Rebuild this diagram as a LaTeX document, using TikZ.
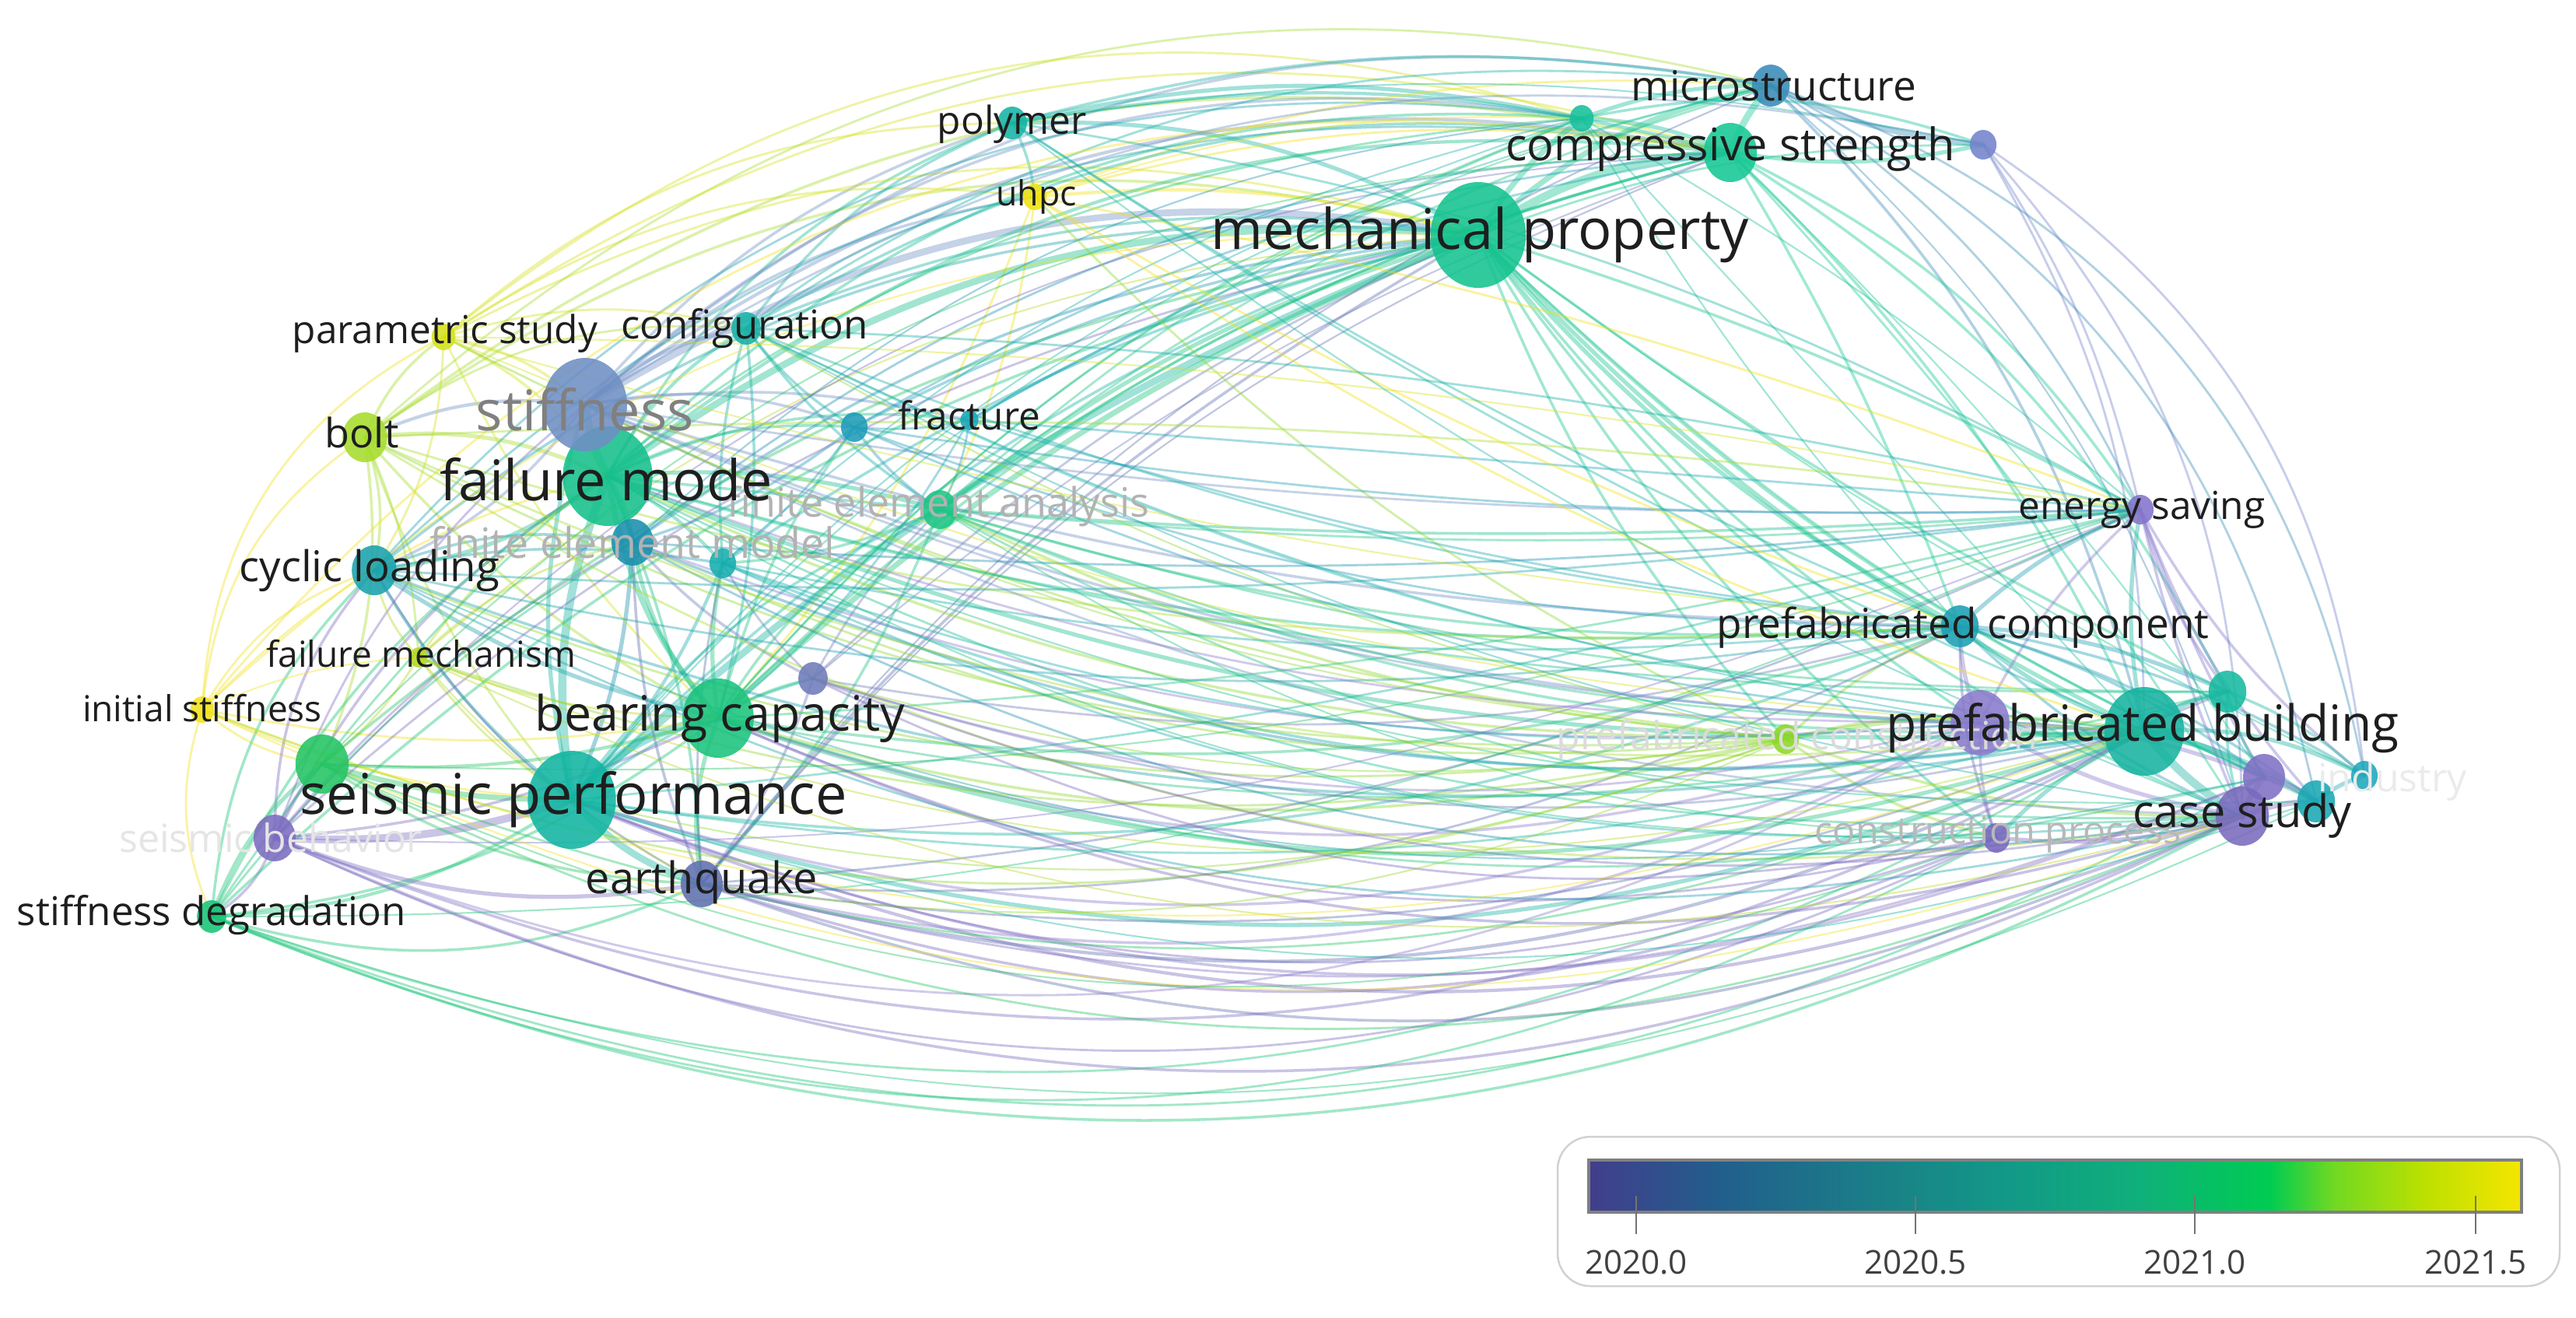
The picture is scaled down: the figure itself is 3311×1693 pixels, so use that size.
\documentclass[tikz,border=0pt]{standalone}
\usepackage{fontspec}
\setmainfont{Open Sans}
\usepackage{xcolor}
\usepackage{tikz}
\usetikzlibrary{shapes.geometric}

\definecolor{lblc}{HTML}{1E1E1E}
\definecolor{c-sp}{HTML}{12B5A2}
\definecolor{c-fm}{HTML}{16C08C}
\definecolor{c-st}{HTML}{6F8FC4}
\definecolor{c-mp}{HTML}{14C38F}
\definecolor{c-pb}{HTML}{17B3A0}
\definecolor{c-bc}{HTML}{1CC37E}
\definecolor{c-cl}{HTML}{1AA2AC}
\definecolor{c-bo}{HTML}{A6DC2C}
\definecolor{c-ps}{HTML}{D6E21C}
\definecolor{c-cf}{HTML}{16B1A6}
\definecolor{c-fr}{HTML}{1AA6B8}
\definecolor{c-na}{HTML}{1E9CB8}
\definecolor{c-fa}{HTML}{1DC585}
\definecolor{c-fe}{HTML}{1A8FAE}
\definecolor{c-nb}{HTML}{16AEAE}
\definecolor{c-fh}{HTML}{B6D822}
\definecolor{c-is}{HTML}{F2E21A}
\definecolor{c-sb}{HTML}{7C6CC0}
\definecolor{c-sd}{HTML}{16C476}
\definecolor{c-eq}{HTML}{5F70B0}
\definecolor{c-nc}{HTML}{24C464}
\definecolor{c-nd}{HTML}{6F7CBA}
\definecolor{c-po}{HTML}{14B4A4}
\definecolor{c-uh}{HTML}{F0E212}
\definecolor{c-mi}{HTML}{3A8CB8}
\definecolor{c-cs}{HTML}{15C894}
\definecolor{c-ne}{HTML}{16C09C}
\definecolor{c-nf}{HTML}{7484CC}
\definecolor{c-es}{HTML}{8474CC}
\definecolor{c-pc}{HTML}{1C9FB2}
\definecolor{c-ng}{HTML}{8A7ACC}
\definecolor{c-nh}{HTML}{16BAA0}
\definecolor{c-ni}{HTML}{8070C4}
\definecolor{c-cy}{HTML}{7A6ABD}
\definecolor{c-nj}{HTML}{1AA8B4}
\definecolor{c-ind}{HTML}{1EA8BC}
\definecolor{c-pr}{HTML}{8ED828}
\definecolor{c-cp}{HTML}{7868C0}

\pgfdeclarehorizontalshading{yearbar}{100bp}{rgb(0bp)=(0.26,0.24,0.55); rgb(25bp)=(0.26,0.24,0.55); rgb(32bp)=(0.13,0.37,0.55); rgb(40.5bp)=(0.10,0.50,0.53); rgb(47.5bp)=(0.07,0.60,0.53); rgb(54.5bp)=(0.06,0.69,0.48); rgb(61.5bp)=(0.0,0.80,0.32); rgb(65bp)=(0.45,0.85,0.13); rgb(70bp)=(0.75,0.88,0.0); rgb(75bp)=(0.96,0.90,0.0); rgb(100bp)=(0.96,0.90,0.0)}

\newcommand{\kwlist}{sp/735/1028/63, fm/781/612/64, st/752/520/60, mp/1900/302/68,
  pb/2756/940/57, bc/923/923/51, cl/481/733/32, bo/469/562/32, ps/570/433/17,
  cf/959/422/21, fr/1246/540/13, na/1098/549/19, fa/1208/655/25, fe/813/697/30,
  nb/929/724/19, fh/538/845/13, is/260/912/17, sb/353/1077/30, sd/272/1178/21,
  eq/902/1136/30, nc/414/982/38, nd/1045/872/21, po/1301/158/21, uh/1330/253/17,
  mi/2276/110/27, cs/2224/196/38, ne/2033/152/17, nf/2549/186/19, es/2751/655/19,
  pc/2519/805/27, ng/2545/929/42, nh/2863/889/27, ni/2910/999/30, cy/2882/1049/38,
  nj/2977/1030/27, ind/3039/997/19, pr/2295/950/19, cp/2566/1077/19}

\begin{document}
\begin{tikzpicture}[x=0.01cm,y=-0.01cm,
    link/.style={draw opacity=0.4, line cap=round},
    bub/.style={ellipse, inner sep=0pt, fill opacity=0.88, draw=none},
    lbl/.style={font=\fontsize{#1}{#1}\selectfont, text=lblc, inner sep=0pt},
    faint/.style={text=black!#1}]
  \fill[white] (0,0) rectangle (3311,1693);
  \useasboundingbox (0,0) rectangle (3311,1693);

  \foreach \n/\x/\y/\r in \kwlist
    \coordinate (\n) at (\x,\y);

  \foreach \a/\b/\k/\w in {sp/fm/15/3, sp/bc/20/3, sp/eq/-15/2.5, sb/sp/-10/2.8, sd/sp/-15/1.2,
      sp/st/15/1.5, cl/sp/-10/1.2, nc/sp/-8/2, is/sp/-10/0.8, fh/sp/-10/0.8, bo/sp/-10/0.8,
      fe/sp/10/1.5, nb/sp/10/1.2, sp/nd/10/1, sp/fa/15/1, fm/st/10/3, fm/bc/-15/2, fm/cl/15/1.5,
      bo/fm/15/1.5, ps/fm/15/1, fm/cf/15/1.2, fm/na/15/1, fm/fa/10/1.5, fm/fe/10/2, fm/nb/10/1.2,
      fm/eq/10/1, fm/fr/15/1, fm/po/20/1, st/cf/15/1.5, st/bo/-15/1.2, ps/st/15/1, st/cl/15/1,
      st/na/15/1, st/po/15/1, st/uh/15/1, st/fr/10/1, cl/bc/-10/1.5, cl/fe/15/1, cl/nb/10/1,
      bc/eq/-15/1.5, bc/fe/15/1.5, bc/nb/10/1.5, bc/fa/15/1, bc/nd/10/1, bc/na/10/1, sd/bc/-15/1,
      sb/bc/-10/1, nc/bc/-10/1.2, sb/eq/-15/1.5, sd/eq/-20/1, nc/eq/-15/1, is/bc/-10/0.8,
      fh/bc/-10/0.8, is/cl/20/0.8, is/bo/25/0.8, is/ps/30/0.8, is/fm/15/0.8, is/nc/-15/0.8,
      is/sd/-20/0.8, bo/ps/15/1, bo/cl/15/1, bo/nc/15/1, bo/bc/-10/1, bo/cf/20/0.8, bo/fh/10/0.8,
      ps/cf/15/0.8, ps/uh/20/0.8, ps/po/20/0.8, ps/bc/-10/0.8, ps/cl/15/0.8, cf/po/15/1,
      cf/fa/-10/1, cf/na/-10/1, cf/bc/10/1, cf/nb/-10/1, cf/uh/15/0.8, fh/fe/15/0.8, fh/nc/10/0.8,
      na/fa/-10/1, na/fe/10/1, fa/eq/10/1, fa/nb/10/1, nd/eq/10/1, nd/fe/10/1, sb/nc/10/1,
      sb/sd/20/1, sb/cl/20/1, sb/fm/15/1, sd/nc/15/1.5, sd/cl/20/1, sd/fm/15/1, sd/fe/10/0.8,
      eq/fe/10/1, po/uh/10/1, uh/bc/10/0.8, uh/fa/10/0.8, fr/fa/10/0.8, fr/bc/10/0.8,
      sb/fe/10/0.8, sb/st/15/0.8, eq/cl/15/0.8, eq/nb/8/0.8, nd/fa/8/0.8, nd/nb/8/0.8,
      fh/cl/15/0.8, fh/fm/10/0.8, fh/eq/-10/0.6, is/fh/10/0.6, fr/na/8/0.8, na/nb/8/0.8}
    \draw[link, draw=c-\a, line width=\w pt] (\a) to[bend left=\k] (\b);

  \foreach \a/\b/\k/\w in {st/mp/20/2.5, sp/mp/10/2.5, fm/mp/20/2.5, bc/mp/10/2, cl/mp/22/1,
      bo/mp/25/1, ps/mp/22/0.8, cf/mp/15/1, po/mp/15/1.5, uh/mp/10/1.2, fa/mp/10/1.5, fe/mp/15/1,
      eq/mp/10/1, sd/mp/15/1, nc/mp/15/1, na/mp/10/1, fr/mp/10/1, sb/mp/15/0.8, bo/cs/25/1,
      bo/mi/28/0.8, ps/ne/28/0.8, ps/cs/25/0.8, st/mi/25/1, st/cs/23/1.2, st/ne/25/1, fm/cs/22/1.2,
      fm/ne/24/1, cl/cs/26/0.8, cl/ne/28/0.8, po/mi/12/1, po/cs/12/1.2, po/ne/12/1.5, uh/cs/12/0.8,
      uh/mi/12/0.8, cf/cs/20/1, cf/mi/20/0.8, sp/cs/15/1, bc/cs/15/1, fe/cs/18/0.8, is/cs/30/0.8,
      sd/ne/26/0.8, st/nf/22/0.8, mp/cs/15/3, mp/mi/15/2, mp/ne/10/2, ne/cs/10/1.5, ne/mi/10/1.5,
      cs/mi/10/2.5, mi/nf/-10/2, cs/nf/-10/1.5, ne/nf/15/1,
      nb/mp/10/1, nd/mp/10/0.8, fh/mp/18/0.6, is/mp/22/0.6, sb/cs/22/0.6, eq/cs/14/0.6,
      nc/cs/22/0.6, bc/mi/18/0.6, sp/mi/18/0.6, fa/mi/10/0.8, fa/cs/10/0.8, na/cs/12/0.8,
      fr/cs/10/0.8, nd/cs/10/0.6, eq/mi/14/0.6, fa/ne/10/0.8, bc/ne/14/0.8, sp/ne/16/0.6,
      po/nf/10/0.6, uh/ne/10/0.6, fe/ne/18/0.6, nb/ne/14/0.6}
    \draw[link, draw=c-\a, line width=\w pt] (\a) to[bend left=\k] (\b);

  \foreach \a/\b/\k/\w in {nf/ind/25/0.8, nf/cy/20/0.8, nf/pb/15/0.8, nf/es/10/0.8, mi/ind/30/0.8,
      mi/nj/25/0.8, mi/pb/15/1, mi/es/15/0.8, cs/pb/10/1, cs/es/15/1, cs/pc/5/1, cs/nh/15/1,
      mp/pb/-10/1.5, mp/pc/-10/1.5, mp/cy/-15/1, mp/nh/-5/1, mp/ni/-10/1, mp/es/5/1, mp/pr/-10/1,
      mp/cp/-10/1, mp/ng/-10/1, pb/cy/-10/3, pb/ni/10/2.5, pb/nj/10/2, pb/ind/15/1.5, pb/nh/15/2,
      pb/ng/10/2, pb/pc/10/1.5, pb/es/10/1.5, pb/cp/-10/1.5, pr/pb/10/1.5, ng/cy/-10/1.5,
      ng/pc/10/1.5, ng/es/10/1, ng/ni/10/1.5, ng/cp/-10/1, pc/es/10/1.5, pc/cy/-10/1, pc/nh/10/1.5,
      pc/ni/10/1, pc/nj/10/1, pc/ind/10/1, es/nh/-10/1, es/cy/-5/1, es/ni/-5/1, es/ind/-10/1,
      es/nj/-10/1, cy/ni/10/2, cy/nj/10/2, ni/nj/10/2, nj/ind/10/1.5, nh/ind/10/1, nh/ni/-10/1,
      nh/cy/-10/1, cp/cy/-10/1.5, cp/pc/10/1, pr/pc/10/1, pr/ng/10/1, pr/cy/-10/1, pr/cp/-10/1,
      mp/nj/-10/0.8, mp/ind/-5/0.6, mp/nf/10/0.8, cs/cy/5/0.8, cs/ni/5/0.6, ne/pb/0/0.6,
      ne/pc/-5/0.6, mi/cy/15/0.6, ne/es/5/0.6}
    \draw[link, draw=c-\a, line width=\w pt] (\a) to[bend left=\k] (\b);

  \foreach \a/\b/\k/\w in {sd/cy/-25/1, sd/pb/-25/0.8, sd/ni/-25/0.8, sb/pb/-25/1, cy/sb/25/1,
      ng/sb/25/0.8, sp/pb/-20/1.5, cy/sp/22/1.2, ni/sp/22/1, ng/sp/20/1, sp/pc/-15/1,
      cp/sp/20/0.8, eq/pb/-20/1.2, eq/cy/-22/1, ng/eq/20/1, cp/eq/20/1, eq/pc/-15/0.8,
      bc/pb/-18/1.5, cy/bc/20/1, bc/pc/-12/1, ng/bc/18/1, pr/bc/15/1, nc/pb/-22/0.8,
      nc/cy/-25/0.8, fm/pb/-12/1.5, fm/pc/-10/1, pr/fm/12/1, fm/es/-5/1, st/pb/-10/1,
      st/pc/-8/1, st/es/-5/0.8, cl/pb/-15/1, pr/cl/15/0.8, fe/pb/-15/1, pr/fe/15/0.8,
      fa/pb/-12/1, fa/pc/-10/1, pr/fa/10/1, fa/es/-5/0.8, nb/pb/-15/1, nd/pb/-15/0.8,
      nd/pc/-12/0.8, cf/pb/-10/0.8, cf/pc/-8/0.8, pr/bo/15/0.8, pr/is/20/0.8, pr/ps/10/0.8,
      pr/fh/15/0.8, pr/uh/10/0.8, po/pb/-5/0.8, na/pc/-10/0.8, na/pb/-10/0.8, sd/cp/-25/0.8,
      cp/sb/25/0.8, cl/cy/-20/0.8, bo/cy/-20/0.8}
    \draw[link, draw=c-\a, line width=\w pt] (\a) to[bend left=\k] (\b);

  \foreach \a/\b/\k/\w in {sp/es/-5/0.8, bc/es/-5/0.8, cl/es/-5/0.8, bo/es/5/0.8, ps/es/5/0.6,
      cf/es/5/0.8, po/es/10/0.8, uh/es/5/0.8, fr/es/0/0.8, na/es/-5/0.8, fe/es/-5/0.8,
      eq/es/-10/0.8, nc/es/-10/0.6, sd/es/-12/0.6, es/sb/12/0.6, cl/pc/-10/0.8, bo/pc/-10/0.8,
      ps/pc/-5/0.6, uh/pc/-5/0.8, po/pc/-5/0.8, fr/pc/-5/0.8, nb/pc/-8/0.8, eq/nh/-15/0.8,
      bc/nh/-12/0.8, fm/nh/-8/0.8, sp/nh/-12/0.8, fa/nh/-8/0.8, ng/nd/15/0.8, ng/fe/12/0.8,
      nb/ng/-12/0.8, fa/ng/-10/0.8, ng/fm/10/0.8, st/ng/-10/0.8, cf/ng/-8/0.6, fa/cy/-15/0.8,
      fe/cy/-18/0.8, nb/cy/-15/0.8, cy/nd/15/0.8, fm/cy/-15/0.8, st/cy/-12/0.8, bc/ni/-15/0.8,
      ni/eq/18/0.8, fm/nj/-12/0.6, sp/nj/-18/0.6, sd/nj/-22/0.6, is/cy/-22/0.6, fh/cy/-20/0.6,
      fh/pb/-18/0.6, cl/ni/-18/0.6, cp/nd/18/0.8, cp/bc/18/0.8, fa/cp/-15/0.6, fm/cp/-15/0.6,
      nc/cp/-22/0.6, is/pb/-20/0.6, bo/pb/-15/0.8, ps/pb/-10/0.6, cf/cy/-10/0.6, uh/pb/-8/0.8,
      po/cy/-8/0.6, pr/nd/12/0.6, pr/sp/16/0.6, pr/eq/16/0.6, pr/st/10/0.6, pr/cf/8/0.6}
    \draw[link, draw=c-\a, line width=\w pt] (\a) to[bend left=\k] (\b);

  \foreach \n/\x/\y/\r in \kwlist
    \node[bub, fill=c-\n, minimum width={1.8*\r*0.01cm}, minimum height={2*\r*0.01cm}] (\n-b) at (\n) {};

  \node[lbl=20.5pt, faint=50] (st-l) at (752,526) {stiffness};
  \node[lbl=15.3pt, faint=30] (fe-l) at (813,697) {finite element model};
  \node[lbl=14.8pt, faint=30] (fa-l) at (1206,651) {finite element analysis};
  \node[lbl=14.2pt, faint=10] (sb-l) at (348,1077) {seismic behavior};
  \node[lbl=14.2pt, faint=14] (pr-l) at (2310,950) {prefabricated construction};
  \node[lbl=13.8pt, faint=28] (cp-l) at (2568,1073) {construction process};
  \node[lbl=14.2pt, faint=8] (ind-l) at (3075,1005) {industry};

  \node[lbl=20.5pt] (sp-l) at (737,1028) {seismic performance};
  \node[lbl=20.5pt] (fm-l) at (779,616) {failure mode};
  \node[lbl=20.5pt] (mp-l) at (1902,302) {mechanical property};
  \node[lbl=18.2pt] (pb-l) at (2754,936) {prefabricated building};
  \node[lbl=17.8pt] (bc-l) at (925,923) {bearing capacity};
  \node[lbl=16.4pt] (cs-l) at (2224,192) {compressive strength};
  \node[lbl=16.4pt] (cy-l) at (2882,1049) {case study};
  \node[lbl=15.9pt] (eq-l) at (902,1134) {earthquake};
  \node[lbl=15.5pt] (cl-l) at (475,733) {cyclic loading};
  \node[lbl=15.1pt] (mi-l) at (2280,110) {microstructure};
  \node[lbl=15.1pt] (pc-l) at (2523,807) {prefabricated component};
  \node[lbl=14.8pt] (bo-l) at (465,556) {bolt};
  \node[lbl=14.5pt] (sd-l) at (272,1176) {stiffness degradation};
  \node[lbl=14.5pt] (cf-l) at (957,422) {configuration};
  \node[lbl=14.1pt] (es-l) at (2753,655) {energy saving};
  \node[lbl=14.1pt] (ps-l) at (572,429) {parametric study};
  \node[lbl=14.1pt] (po-l) at (1301,160) {polymer};
  \node[lbl=14.1pt] (fr-l) at (1246,534) {fracture};
  \node[lbl=13.1pt] (is-l) at (260,910) {initial stiffness};
  \node[lbl=13.1pt] (fh-l) at (541,840) {failure mechanism};
  \node[lbl=12.7pt] (uh-l) at (1332,253) {uhpc};

  \draw[draw=black!18, line width=0.7pt, rounded corners=12pt] (2002,1461) rectangle (3290,1653);
  \shade[shading=yearbar] (2042,1491) rectangle (3241,1558);
  \draw[draw=black!50, line width=1.1pt] (2042,1491) rectangle (3241,1558);
  \foreach \xx/\yr in {2103/2020.0,2462/2020.5,2821/2021.0,3182/2021.5} {
    \draw[black!55, line width=0.6pt] (\xx,1537) -- (\xx,1586);
    \node[lbl=12pt, text=black!75] (yr-\xx) at (\xx,1622) {\yr};
  }
\end{tikzpicture}
\end{document}
